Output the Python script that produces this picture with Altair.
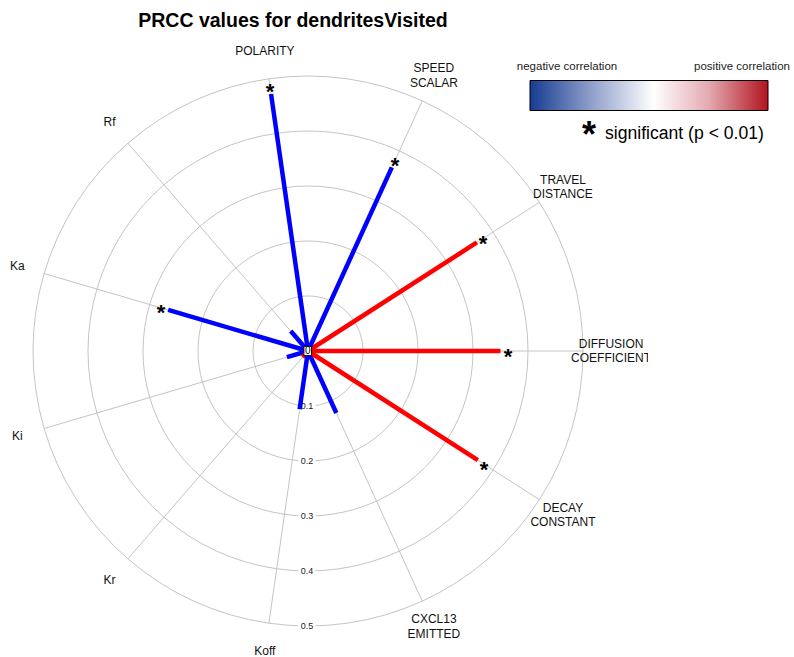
import math

import altair as alt
import numpy as np
import pandas as pd

# PRCC of each model parameter against dendritesVisited, listed counter-clockwise from east
parameters = ["DIFFUSION\nCOEFFICIENT", "TRAVEL\nDISTANCE", "SPEED\nSCALAR", "POLARITY",
              "Rf", "Ka", "Ki", "Kr", "Koff", "CXCL13\nEMITTED", "DECAY\nCONSTANT"]
prcc = [0.350, 0.365, -0.367, -0.472, -0.048, -0.265, -0.040, 0.015, -0.107, -0.124, 0.367]
significant = [True, True, True, True, False, True, False, False, False, False, True]

ring_levels = [0.1, 0.2, 0.3, 0.4, 0.5]
ring_labels = ["0.1", "0.2", "0.3", "0.4", "0.5"]

legend_left = "negative correlation"
legend_right = "positive correlation"
legend_sig = "significant (p < 0.01)"
title_text = "PRCC values for dendritesVisited"

FONT = "Liberation Sans"
GRID = "#c4c4c4"
n = len(parameters)
outer = ring_levels[-1]
label_r = 0.551

params = pd.DataFrame({
    "name": parameters,
    "value": prcc,
    "sig": significant,
    "angle": [2 * math.pi * k / n for k in range(n)],
})

# rings as closed polylines
steps = 88
ring_rows = []
for lvl in ring_levels:
    for s in range(steps + 1):
        a = 2 * math.pi * s / steps
        ring_rows.append({"level": lvl, "step": s, "x": lvl * math.cos(a), "y": lvl * math.sin(a)})
rings = pd.DataFrame(ring_rows)

ticks = pd.DataFrame({"level": ring_levels, "label": ring_labels})

xs = alt.Scale(domain=[-308 / 550, 340 / 550], nice=False, zero=False)
ys = alt.Scale(domain=[-306 / 550, 351 / 550], nice=False, zero=False)


def X(f):
    return alt.X(f, type="quantitative", scale=xs, axis=None)


def Y(f):
    return alt.Y(f, type="quantitative", scale=ys, axis=None)


base = alt.Chart(params).transform_calculate(
    r="abs(datum.value)",
    cx="cos(datum.angle)",
    cy="sin(datum.angle)",
    zero="0",
)

ring_layer = alt.Chart(rings).mark_line(color=GRID, strokeWidth=1).encode(
    x=X("x"), y=Y("y"), detail="level:N", order="step:Q"
)

spoke_layer = base.transform_calculate(
    sx=f"{outer} * datum.cx", sy=f"{outer} * datum.cy"
).mark_rule(color=GRID, strokeWidth=1).encode(
    x=X("zero"), y=Y("zero"), x2="sx:Q", y2="sy:Q"
)

tick_bg = alt.Chart(ticks).transform_calculate(
    x1="-0.018", x2="0.014", y1="-datum.level - 0.009", y2="-datum.level + 0.009"
).mark_rect(color="white").encode(x=X("x1"), x2="x2:Q", y=Y("y1"), y2="y2:Q")

tick_text = alt.Chart(ticks).transform_calculate(
    tx="-0.002", ty="-datum.level"
).mark_text(font=FONT, fontSize=9, color="#222222", baseline="middle").encode(
    x=X("tx"), y=Y("ty"), text="label:N"
)

bar_layer = base.transform_calculate(
    ex="datum.r * datum.cx",
    ey="datum.r * datum.cy",
    col="datum.value > 0 ? '#ff0000' : '#0000ff'",
).mark_rule(strokeWidth=4.5, strokeCap="butt").encode(
    x=X("zero"), y=Y("zero"), x2="ex:Q", y2="ey:Q",
    color=alt.Color("col:N", scale=None),
)

star_layer = base.transform_filter("datum.sig").transform_calculate(
    px="(datum.r + 0.0135) * datum.cx",
    py="(datum.r + 0.0135) * datum.cy",
).mark_text(text="*", font=FONT, fontSize=22, color="black", fontWeight="bold",
            baseline="alphabetic", dy=12.5).encode(x=X("px"), y=Y("py"))

# parameter names around the rim; two-line names are shifted so the block is centred
label_base = base.transform_calculate(
    lx=f"{label_r} * datum.cx", ly=f"{label_r} * datum.cy",
    two="indexof(datum.name, '\\n') >= 0",
)
label_text_props = dict(font=FONT, fontSize=12, color="#111111", lineBreak="\n",
                        lineHeight=14.5, align="center", baseline="middle", clip=True)
label_one = label_base.transform_filter("!datum.two").mark_text(**label_text_props).encode(
    x=X("lx"), y=Y("ly"), text="name:N"
)
label_two = label_base.transform_filter("datum.two").mark_text(dy=-7.3, **label_text_props).encode(
    x=X("lx"), y=Y("ly"), text="name:N"
)

center = pd.DataFrame({"label": ["0"]})
center_box = alt.Chart(center).transform_calculate(
    x1="-0.0075", x2="0.0065", y1="-0.0085", y2="0.0085"
).mark_rect(fill="white", stroke="black", strokeWidth=1).encode(
    x=X("x1"), x2="x2:Q", y=Y("y1"), y2="y2:Q"
)
center_text = alt.Chart(center).transform_calculate(cx0="-0.0005", cy0="0").mark_text(
    font=FONT, fontSize=10, color="black", baseline="middle"
).encode(x=X("cx0"), y=Y("cy0"), text="label:N")

one = pd.DataFrame({"k": [0]})
title_layer = alt.Chart(one).mark_text(
    text=title_text, font=FONT, fontSize=19.5, fontWeight="bold", color="black",
    align="center", baseline="middle"
).encode(x=alt.value(293), y=alt.value(21))

gradient = alt.Gradient(
    gradient="linear",
    stops=[
        alt.GradientStop(color="#163c92", offset=0),
        alt.GradientStop(color="#8d9cc9", offset=0.25),
        alt.GradientStop(color="#ffffff", offset=0.52),
        alt.GradientStop(color="#e3aab2", offset=0.75),
        alt.GradientStop(color="#b1141e", offset=1),
    ],
    x1=0, x2=1, y1=0, y2=0,
)
legend_bar = alt.Chart(one).mark_rect(fill=gradient, stroke="black", strokeWidth=1).encode(
    x=alt.value(530), x2=alt.value(768), y=alt.value(80.5), y2=alt.value(110.5)
)
legend_neg = alt.Chart(one).mark_text(
    text=legend_left, font=FONT, fontSize=11.5, color="#222222", align="center", baseline="middle"
).encode(x=alt.value(567), y=alt.value(67))
legend_pos = alt.Chart(one).mark_text(
    text=legend_right, font=FONT, fontSize=11.5, color="#222222", align="center", baseline="middle"
).encode(x=alt.value(742), y=alt.value(67))
legend_star = alt.Chart(one).mark_text(
    text="*", font=FONT, fontSize=36, fontWeight="bold", color="black",
    align="center", baseline="alphabetic", dy=13
).encode(x=alt.value(589), y=alt.value(134))
legend_sig_text = alt.Chart(one).mark_text(
    text=legend_sig, font=FONT, fontSize=17.6, color="black", align="left", baseline="middle"
).encode(x=alt.value(605), y=alt.value(134))

chart = alt.layer(
    ring_layer, spoke_layer, tick_bg, tick_text, bar_layer, star_layer, label_one, label_two,
    center_box, center_text, title_layer,
    legend_bar, legend_neg, legend_pos, legend_star, legend_sig_text,
).properties(
    width=648, height=657,
    background="white",
    autosize=alt.AutoSizeParams(type="none"),
    padding={"left": 0, "top": 0, "right": 146, "bottom": 0},
).configure_view(stroke=None)

chart.save("out.html", embed_options={"renderer": "svg", "actions": False})
